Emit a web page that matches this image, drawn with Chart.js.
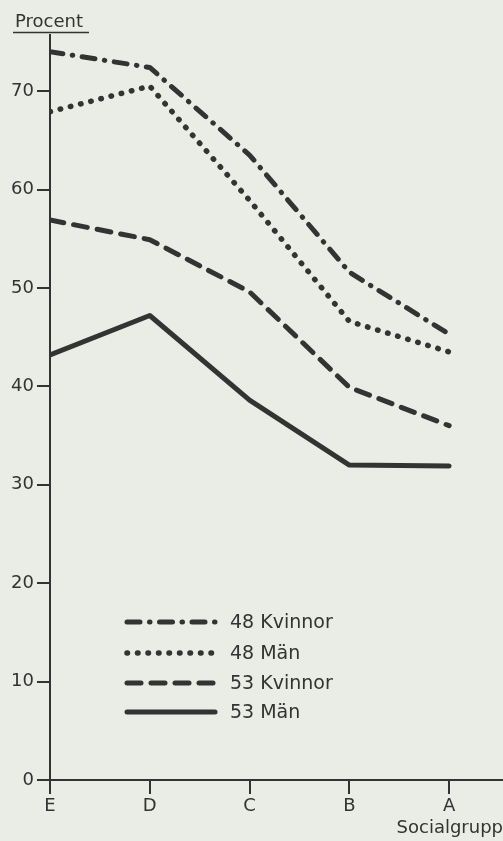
<!DOCTYPE html>
<html lang="sv">
<head>
<meta charset="utf-8">
<title>Procent per socialgrupp</title>
<script src="https://cdn.jsdelivr.net/npm/chart.js@4/dist/chart.umd.min.js"></script>
<style>
    body {
        margin: 0;
        background: #eaece6;
    }
    #wrap {
        width: 503px;
        height: 841px;
        position: relative;
    }
</style>
</head>
<body>
<div id="wrap"><canvas id="socialChart"></canvas></div>
<script>
const categories = ['E', 'D', 'C', 'B', 'A'];
const yTicks = [0, 10, 20, 30, 40, 50, 60, 70];
const seriesNames = ['48 Kvinnor', '48 Män', '53 Kvinnor', '53 Män'];

const kvinnor48 = [74.0, 72.4, 63.5, 51.6, 45.3];
const man48 = [67.9, 70.5, 58.9, 46.6, 43.5];
const kvinnor53 = [56.9, 54.9, 49.6, 39.9, 36.0];
const man53 = [43.2, 47.2, 38.6, 32.0, 31.9];

const INK = '#333333';
const FONT = '"DejaVu Sans", sans-serif';

class SocialChart {
    constructor() {
        this.styles = [
            { dash: [13, 9.5, 0.5, 9.5], width: 5 },   // streck-punkt
            { dash: [0.5, 10], width: 5.5 },           // prickad
            { dash: [14, 10], width: 5 },              // streckad
            { dash: [], width: 5 }                     // heldragen
        ];
        this.chart = null;
        this.draw();
    }

    toPoints(values) {
        return values.map((v, i) => ({ x: i, y: v }));
    }

    buildDatasets() {
        const all = [kvinnor48, man48, kvinnor53, man53];
        return all.map((values, i) => ({
            label: seriesNames[i],
            data: this.toPoints(values),
            borderColor: INK,
            borderWidth: this.styles[i].width,
            borderDash: this.styles[i].dash,
            borderCapStyle: 'round',
            borderJoinStyle: 'round',
            pointRadius: 0,
            tension: 0,
            fill: false
        }));
    }

    // "Procent" överst och teckenförklaringen inne i diagrammet
    textPlugin() {
        const styles = this.styles;
        return {
            id: 'extraText',
            afterDatasetsDraw(chart) {
                const ctx = chart.ctx;
                const area = chart.chartArea;
                ctx.save();
                ctx.fillStyle = INK;
                ctx.strokeStyle = INK;
                ctx.font = '18px ' + FONT;
                ctx.textBaseline = 'alphabetic';
                ctx.textAlign = 'left';
                ctx.fillText('Procent', 15, 27);
                ctx.lineWidth = 1.5;
                ctx.beginPath();
                ctx.moveTo(13, 32.5);
                ctx.lineTo(89, 32.5);
                ctx.stroke();

                // teckenförklaring
                const x0 = area.left + 77;
                const x1 = area.left + 165;
                const rows = [622, 653, 683, 712];
                ctx.font = '19px ' + FONT;
                ctx.textBaseline = 'middle';
                chart.data.datasets.forEach((ds, i) => {
                    ctx.lineWidth = styles[i].width;
                    ctx.lineCap = 'round';
                    ctx.setLineDash(styles[i].dash);
                    ctx.beginPath();
                    ctx.moveTo(x0, rows[i]);
                    ctx.lineTo(x1, rows[i]);
                    ctx.stroke();
                    ctx.setLineDash([]);
                    ctx.fillText(ds.label, x1 + 15, rows[i] + 1);
                });
                ctx.restore();
            }
        };
    }

    draw() {
        const ctx = document.getElementById('socialChart').getContext('2d');
        this.chart = new Chart(ctx, {
            type: 'line',
            data: { datasets: this.buildDatasets() },
            plugins: [this.textPlugin()],
            options: {
                responsive: true,
                maintainAspectRatio: false,
                animation: false,
                layout: { padding: { top: 35, right: 0, left: 0, bottom: 0 } },
                plugins: {
                    legend: { display: false },
                    tooltip: { enabled: false }
                },
                scales: {
                    x: {
                        type: 'linear',
                        min: 0,
                        max: 4.54,
                        afterFit: (scale) => { scale.height = 61; },
                        afterBuildTicks: (scale) => {
                            scale.ticks = categories.map((c, i) => ({ value: i }));
                        },
                        ticks: {
                            color: INK,
                            font: { family: FONT, size: 18 },
                            padding: 2,
                            maxRotation: 0,
                            callback: (value) => categories[value]
                        },
                        grid: {
                            drawOnChartArea: false,
                            drawTicks: true,
                            tickLength: 14,
                            color: INK,
                            lineWidth: 2
                        },
                        border: { display: true, color: INK, width: 2 },
                        title: {
                            display: true,
                            text: 'Socialgrupp',
                            align: 'end',
                            color: INK,
                            font: { family: FONT, size: 18 },
                            padding: { top: 0, bottom: 2 }
                        }
                    },
                    y: {
                        min: 0,
                        max: 75.7,
                        afterFit: (scale) => { scale.width = 50; },
                        afterBuildTicks: (scale) => {
                            scale.ticks = yTicks.map((v) => ({ value: v }));
                        },
                        ticks: {
                            color: INK,
                            font: { family: FONT, size: 18 },
                            padding: 3
                        },
                        grid: {
                            drawOnChartArea: false,
                            drawTicks: true,
                            tickLength: 13,
                            color: INK,
                            lineWidth: 2
                        },
                        border: { display: true, color: INK, width: 2 }
                    }
                }
            }
        });
    }
}

document.addEventListener('DOMContentLoaded', () => {
    new SocialChart();
});
</script>
</body>
</html>
